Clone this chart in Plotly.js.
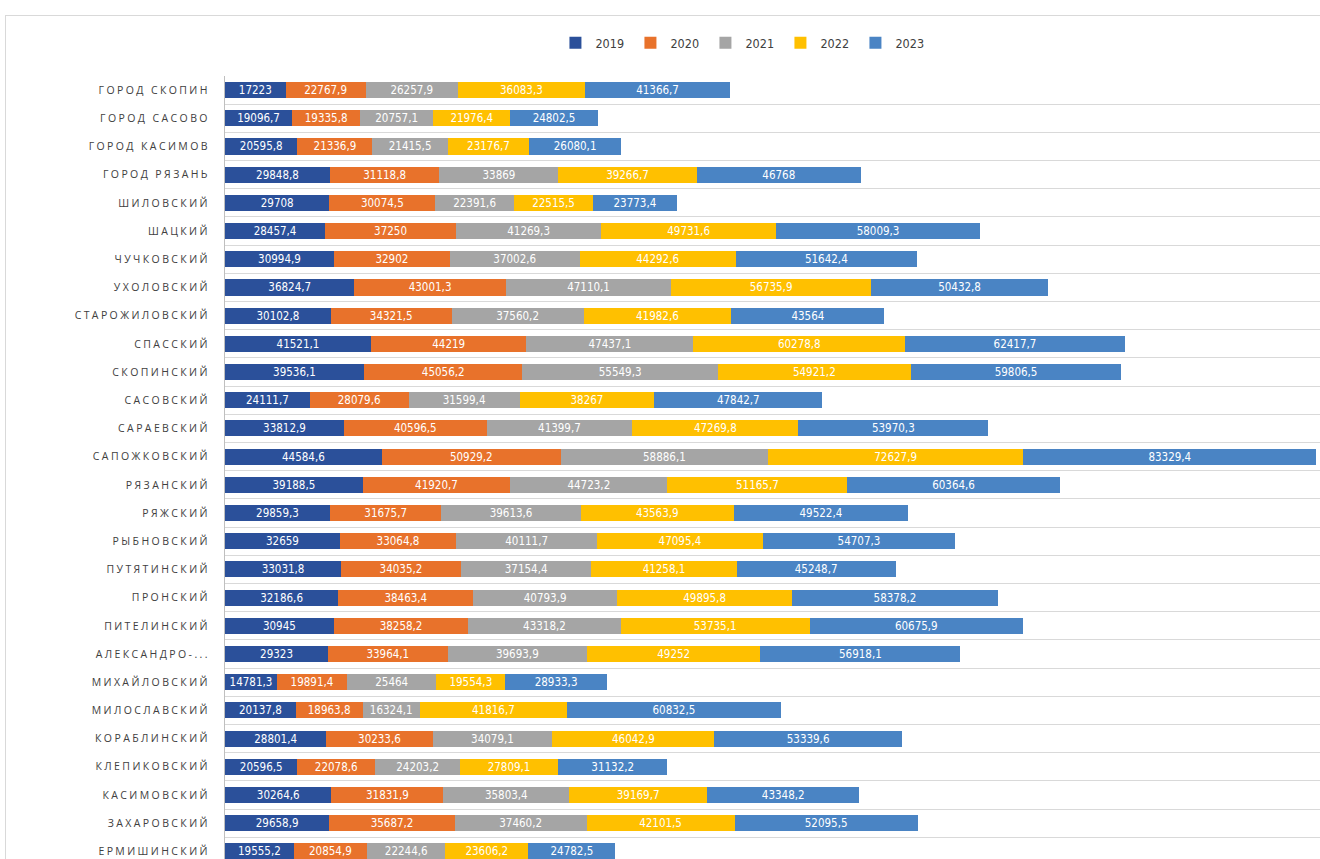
<!DOCTYPE html>
<html>
<head>
<meta charset="utf-8">
<script src="https://cdn.plot.ly/plotly-3.0.1.min.js"></script>
<style>
  html, body { margin: 0; padding: 0; background: #ffffff; width: 1320px; height: 859px; overflow: hidden; }
  #frame { position: absolute; left: 5px; top: 15px; width: 1330px; height: 860px; border: 1px solid #d9d9d9; background: #ffffff; }
  #chart { position: absolute; left: 0; top: 0; width: 1320px; height: 859px; }
</style>
</head>
<body>
<div id="frame"></div>
<div id="chart"></div>
<script>
const categories = [
  "ГОРОД СКОПИН", "ГОРОД САСОВО", "ГОРОД КАСИМОВ", "ГОРОД РЯЗАНЬ", "ШИЛОВСКИЙ",
  "ШАЦКИЙ", "ЧУЧКОВСКИЙ", "УХОЛОВСКИЙ", "СТАРОЖИЛОВСКИЙ", "СПАССКИЙ",
  "СКОПИНСКИЙ", "САСОВСКИЙ", "САРАЕВСКИЙ", "САПОЖКОВСКИЙ", "РЯЗАНСКИЙ",
  "РЯЖСКИЙ", "РЫБНОВСКИЙ", "ПУТЯТИНСКИЙ", "ПРОНСКИЙ", "ПИТЕЛИНСКИЙ",
  "АЛЕКСАНДРО-...", "МИХАЙЛОВСКИЙ", "МИЛОСЛАВСКИЙ", "КОРАБЛИНСКИЙ", "КЛЕПИКОВСКИЙ",
  "КАСИМОВСКИЙ", "ЗАХАРОВСКИЙ", "ЕРМИШИНСКИЙ"
];
const seriesNames = ["2019", "2020", "2021", "2022", "2023"];
const v2019 = [17223, 19096.7, 20595.8, 29848.8, 29708, 28457.4, 30994.9, 36824.7, 30102.8, 41521.1,
  39536.1, 24111.7, 33812.9, 44584.6, 39188.5, 29859.3, 32659, 33031.8, 32186.6, 30945,
  29323, 14781.3, 20137.8, 28801.4, 20596.5, 30264.6, 29658.9, 19555.2];
const v2020 = [22767.9, 19335.8, 21336.9, 31118.8, 30074.5, 37250, 32902, 43001.3, 34321.5, 44219,
  45056.2, 28079.6, 40596.5, 50929.2, 41920.7, 31675.7, 33064.8, 34035.2, 38463.4, 38258.2,
  33964.1, 19891.4, 18963.8, 30233.6, 22078.6, 31831.9, 35687.2, 20854.9];
const v2021 = [26257.9, 20757.1, 21415.5, 33869, 22391.6, 41269.3, 37002.6, 47110.1, 37560.2, 47437.1,
  55549.3, 31599.4, 41399.7, 58886.1, 44723.2, 39613.6, 40111.7, 37154.4, 40793.9, 43318.2,
  39693.9, 25464, 16324.1, 34079.1, 24203.2, 35803.4, 37460.2, 22244.6];
const v2022 = [36083.3, 21976.4, 23176.7, 39266.7, 22515.5, 49731.6, 44292.6, 56735.9, 41982.6, 60278.8,
  54921.2, 38267, 47269.8, 72627.9, 51165.7, 43563.9, 47095.4, 41258.1, 49895.8, 53735.1,
  49252, 19554.3, 41816.7, 46042.9, 27809.1, 39169.7, 42101.5, 23606.2];
const v2023 = [41366.7, 24802.5, 26080.1, 46768, 23773.4, 58009.3, 51642.4, 50432.8, 43564, 62417.7,
  59806.5, 47842.7, 53970.3, 83329.4, 60364.6, 49522.4, 54707.3, 45248.7, 58378.2, 60675.9,
  56918.1, 28933.3, 60832.5, 53339.6, 31132.2, 43348.2, 52095.5, 24782.5];

const allValues = [v2019, v2020, v2021, v2022, v2023];
const colors = ["#2B509A", "#E8722B", "#A5A5A5", "#FFC000", "#4A84C4"];

function fmt(v) { return String(v).replace('.', ','); }

const traces = allValues.map((vals, i) => ({
  type: 'bar',
  orientation: 'h',
  name: seriesNames[i],
  x: vals,
  y: categories,
  text: vals.map(fmt),
  textposition: 'inside',
  insidetextanchor: 'middle',
  constraintext: 'none',
  textangle: 0,
  textfont: { family: '"DejaVu Sans Condensed", "Liberation Sans Narrow", sans-serif', size: 11.5, color: '#ffffff' },
  marker: { color: colors[i], line: { width: 0 } },
  hoverinfo: 'none'
}));

const layout = {
  barmode: 'stack',
  bargap: 0.43,
  width: 1320,
  height: 859,
  margin: { l: 225, r: 0, t: 76, b: 0, pad: 0 },
  paper_bgcolor: 'rgba(0,0,0,0)',
  plot_bgcolor: 'rgba(0,0,0,0)',
  showlegend: true,
  legend: {
    orientation: 'h',
    x: 0.473, xanchor: 'center',
    y: 1.042, yanchor: 'middle',
    font: { family: '"DejaVu Sans Condensed", sans-serif', size: 12.5, color: '#404040' },
    itemwidth: 30,
    entrywidth: 30,
    entrywidthmode: 'pixels',
    traceorder: 'normal',
    bgcolor: 'rgba(0,0,0,0)'
  },
  xaxis: {
    range: [0, 311400],
    showgrid: false,
    zeroline: false,
    showticklabels: false,
    showline: false,
    fixedrange: true
  },
  yaxis: {
    type: 'category',
    categoryorder: 'array',
    categoryarray: categories,
    range: [27.27, -0.5],
    tickson: 'boundaries',
    showgrid: true,
    gridcolor: '#d9d9d9',
    gridwidth: 1,
    ticks: '',
    showline: true,
    linecolor: '#bfbfbf',
    linewidth: 1,
    ticklabelstandoff: 12,
    tickfont: { family: '"Open Sans", "DejaVu Sans", sans-serif', size: 10.5, color: '#404040' },
    fixedrange: true
  }
};

Plotly.newPlot('chart', traces, layout, { displayModeBar: false, staticPlot: true }).then(function () {
  document.querySelectorAll('.yaxislayer-above .ytick text').forEach(function (t) {
    t.style.letterSpacing = '2.4px';
  });
});
</script>
</body>
</html>
